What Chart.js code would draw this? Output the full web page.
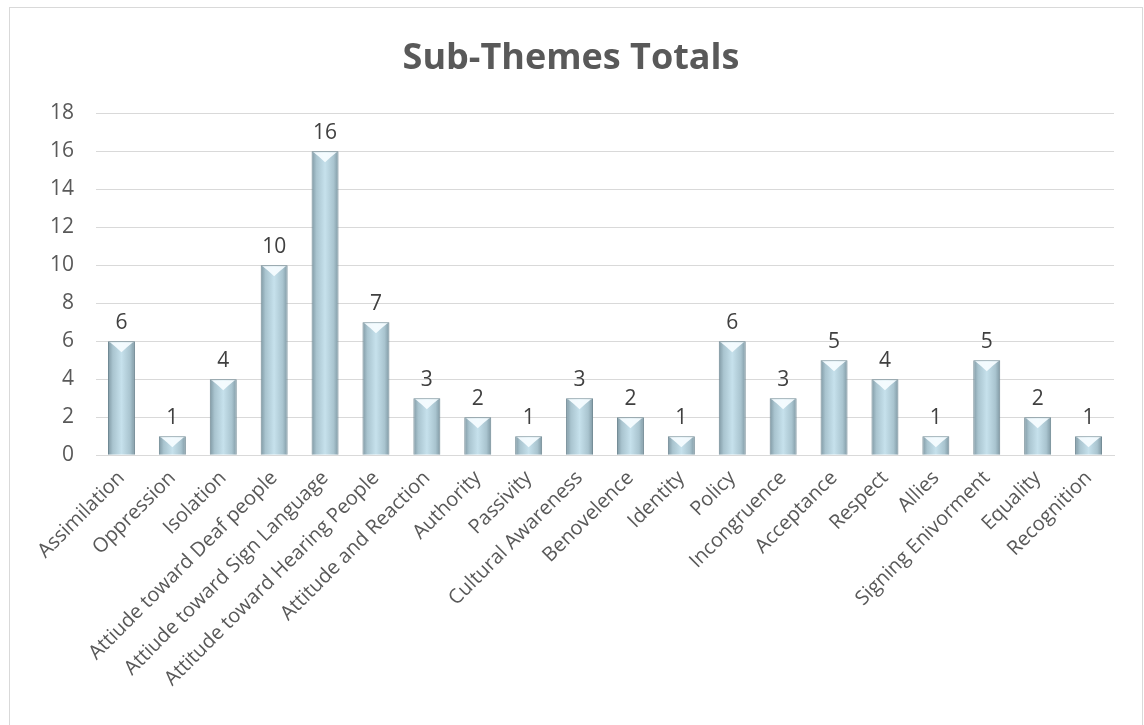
<!DOCTYPE html>
<html lang="en">
<head>
<meta charset="UTF-8"/>
<title>Sub-Themes Totals</title>
<script src="https://cdn.jsdelivr.net/npm/chart.js@4/dist/chart.umd.min.js"></script>
<style>
  *{box-sizing:border-box;margin:0;padding:0}
  body{background:#fff;width:1144px;height:725px;overflow:hidden;font-family:"Open Sans",sans-serif}
  .frame{position:absolute;left:9px;top:7px;width:1134px;height:722px;border:1px solid #d9d9d9;background:#fff}
  .frame canvas{display:block}
</style>
</head>
<body>
<div class="frame"><canvas id="chart"></canvas></div>
<script>
// ── Data ────────────────────────────────────────────────────────────────────
const categories = [
  "Assimilation", "Oppression", "Isolation", "Attiude toward Deaf people",
  "Attiude toward Sign Language", "Attitude toward Hearing People",
  "Attitude and Reaction", "Authority", "Passivity", "Cultural Awareness",
  "Benovelence", "Identity", "Policy", "Incongruence", "Acceptance",
  "Respect", "Allies", "Signing Enivorment", "Equality", "Recognition"
];
const totals = [6, 1, 4, 10, 16, 7, 3, 2, 1, 3, 2, 1, 6, 3, 5, 4, 1, 5, 2, 1];
const yTicks = [0, 2, 4, 6, 8, 10, 12, 14, 16, 18];

const FONT = '"Open Sans", sans-serif';
const BAR_PCT = 0.53;

// bevel-look fill: horizontal gradient centred on each bar
function barFill(ctx) {
  const xs = ctx.chart.scales.x;
  if (ctx.type !== 'data' || !xs || !xs.width) return '#a9c4cf';
  const cx = xs.getPixelForValue(ctx.dataIndex);
  const half = xs.width / categories.length * BAR_PCT / 2;
  const g = ctx.chart.ctx.createLinearGradient(cx - half, 0, cx + half, 0);
  g.addColorStop(0, '#7f98a3');
  g.addColorStop(0.18, '#a9c4cf');
  g.addColorStop(0.5, '#c6e1ec');
  g.addColorStop(0.82, '#a9c4cf');
  g.addColorStop(1, '#7f98a3');
  return g;
}

// top chevron highlight + value labels
const barExtras = {
  id: 'barExtras',
  afterDatasetsDraw(chart) {
    const c = chart.ctx;
    const meta = chart.getDatasetMeta(0);
    c.save();
    meta.data.forEach((bar, i) => {
      const half = bar.width / 2;
      c.fillStyle = 'rgba(245,252,255,0.95)';
      c.beginPath();
      c.moveTo(bar.x - half + 2, bar.y + 1);
      c.lineTo(bar.x + half - 2, bar.y + 1);
      c.lineTo(bar.x + half - 8, bar.y + 6);
      c.lineTo(bar.x, bar.y + 11);
      c.lineTo(bar.x - half + 8, bar.y + 6);
      c.closePath();
      c.fill();

      c.fillStyle = '#404040';
      c.font = '21px ' + FONT;
      c.textAlign = 'center';
      c.textBaseline = 'bottom';
      c.fillText(String(totals[i]), bar.x, bar.y - 8);
    });
    c.restore();
  }
};

new Chart(document.getElementById('chart'), {
  type: 'bar',
  data: {
    labels: categories,
    datasets: [{
      label: 'Totals',
      data: totals,
      backgroundColor: barFill,
      borderColor: '#6f8893',
      borderWidth: 1,
      categoryPercentage: 1,
      barPercentage: BAR_PCT,
    }]
  },
  options: {
    responsive: true,
    maintainAspectRatio: false,
    animation: false,
    layout: { padding: { left: 18, right: 28, top: 10, bottom: 34 } },
    plugins: {
      legend: { display: false },
      tooltip: { enabled: false },
      title: {
        display: true,
        text: 'Sub-Themes Totals',
        color: '#595959',
        font: { family: FONT, size: 36, weight: 'bold' },
        padding: { top: 19, bottom: 33 }
      }
    },
    scales: {
      x: {
        grid: { display: false },
        border: { color: '#d9d9d9' },
        ticks: {
          color: '#595959',
          font: { family: FONT, size: 20 },
          maxRotation: 45,
          minRotation: 45,
          autoSkip: false
        }
      },
      y: {
        min: 0,
        max: 18,
        afterBuildTicks(axis) { axis.ticks = yTicks.map(v => ({ value: v })); },
        grid: { color: '#d9d9d9', drawTicks: false },
        border: { display: false },
        ticks: {
          color: '#595959',
          font: { family: FONT, size: 21 },
          padding: 22
        }
      }
    }
  },
  plugins: [barExtras]
});
</script>
</body>
</html>
